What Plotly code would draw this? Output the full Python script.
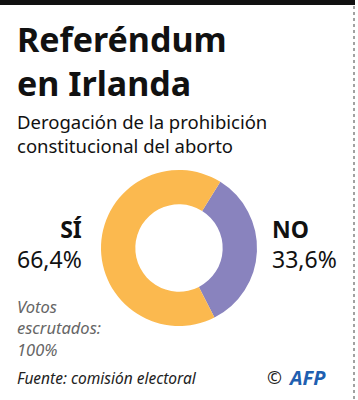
import plotly.graph_objects as go

W, H = 358, 400
labels = ["NO", "SÍ"]
values = [33.6, 66.4]
colors = ["#8983BE", "#FBB94F"]
title_lines = ["Referéndum", "en Irlanda"]
subtitle_lines = ["Derogación de la prohibición", "constitucional del aborto"]
note_lines = ["Votos", "escrutados:", "100%"]
source = "Fuente: comisión electoral"

FONT = "Noto Sans"

def px(x):
    return x / W

def py(y):
    return 1 - y / H

fig = go.Figure()
cx, cy, r = 179, 248, 78
fig.add_trace(go.Pie(
    labels=labels, values=values, hole=0.56, sort=False, direction="clockwise",
    rotation=32, marker=dict(colors=colors, line=dict(width=0)),
    textinfo="none", hoverinfo="label+percent", showlegend=False,
    domain=dict(x=[px(cx - r), px(cx + r)], y=[py(cy + r), py(cy - r)]),
))

ann = []
def text(x, y, s, size, color="#111", xanchor="left", bold=False, italic=False, font=FONT):
    if bold:
        s = "<b>" + s + "</b>"
    if italic:
        s = "<i>" + s + "</i>"
    ann.append(dict(x=px(x), y=py(y), xref="paper", yref="paper", text=s, showarrow=False,
                    xanchor=xanchor, yanchor="middle", align=xanchor, borderpad=0,
                    font=dict(size=size, color=color, family=font)))

def pct(v):
    return f"{v:.1f}%".replace(".", ",")

text(16, 61, "<br>".join(title_lines), 34, bold=True)
text(16, 133, "<br>".join(subtitle_lines), 18.5)
text(83, 244, f"<b>{labels[1]}</b><br>{pct(values[1])}", 23, xanchor="right")
text(271, 244, f"<b>{labels[0]}</b><br>{pct(values[0])}", 23)
text(16, 327.5, "<br>".join(note_lines), 16.5, color="#666", italic=True)
text(16, 378, source, 15.5, color="#222", italic=True)
text(266, 377, "©", 18, color="#222")
text(287, 377, "AFP", 20, color="#1F5FB0", bold=True, italic=True)

fig.update_layout(
    width=W, height=H, margin=dict(l=0, r=0, t=0, b=0),
    paper_bgcolor="white", plot_bgcolor="white", annotations=ann,
    shapes=[
        dict(type="rect", xref="paper", yref="paper", x0=0, x1=px(355), y0=py(0), y1=py(5),
             fillcolor="#111", line=dict(width=0)),
        dict(type="line", xref="paper", yref="paper", x0=px(354), x1=px(354), y0=py(6), y1=0,
             line=dict(color="#444", width=1, dash="dot")),
    ],
)
fig.write_html("out.html", config={"displayModeBar": False},
               post_script="document.body.style.margin='0';")
